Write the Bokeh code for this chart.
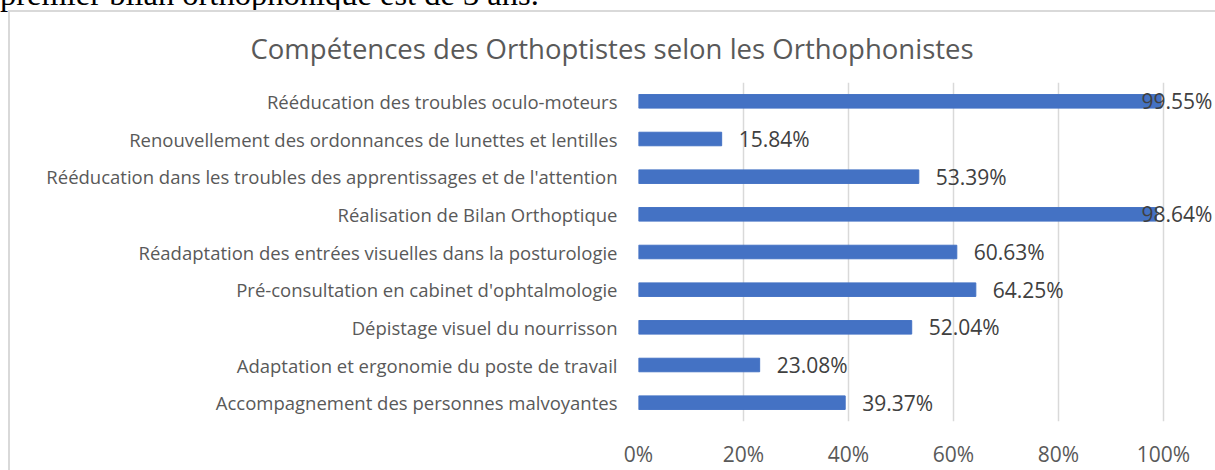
import numpy as np
from bokeh.plotting import figure
from bokeh.layouts import column
from bokeh.models import (FixedTicker, PrintfTickFormatter, Div,
                          ColumnDataSource, FactorRange)
from bokeh.core.properties import value
from bokeh.embed import file_html
from bokeh.resources import INLINE

categories = [
    "Rééducation des troubles oculo-moteurs",
    "Renouvellement des ordonnances de lunettes et lentilles",
    "Rééducation dans les troubles des apprentissages et de l'attention",
    "Réalisation de Bilan Orthoptique",
    "Réadaptation des entrées visuelles dans la posturologie",
    "Pré-consultation en cabinet d'ophtalmologie",
    "Dépistage visuel du nourrisson",
    "Adaptation et ergonomie du poste de travail",
    "Accompagnement des personnes malvoyantes",
]
values = [99.55, 15.84, 53.39, 98.64, 60.63, 64.25, 52.04, 23.08, 39.37]
x_ticks = [0, 20, 40, 60, 80, 100]
title_text = "Compétences des Orthoptistes selon les Orthophonistes"
above_text = "premier bilan orthophonique est de 3 ans."

FONT = "Open Sans"
GREY = "#595959"
W, H = 1215, 470
LEFT, TOP, BOTTOM = 638, 82, 42
PX_PER_PCT = 5.25
x_end = (W - LEFT) / PX_PER_PCT

vals = np.array(values)
lab_x = np.minimum(vals + 17 / PX_PER_PCT, 95.8)
src = ColumnDataSource(dict(cat=categories, v=values, lx=lab_x,
                            txt=[f"{v:.2f}%" for v in values]))

p = figure(width=W, height=H, output_backend="svg", toolbar_location=None,
           y_range=FactorRange(*categories[::-1], range_padding=0),
           x_range=(0, x_end),
           min_border_left=LEFT, min_border_right=0, min_border_top=TOP,
           min_border_bottom=BOTTOM)
# light grey chart-area frame (left and top edges) painted behind the canvas
p.styles = {
    "background-image": "linear-gradient(#d9d9d9, #d9d9d9), linear-gradient(#d9d9d9, #d9d9d9)",
    "background-size": "2px 100%, 100% 2px",
    "background-position": "8px 10px, 8px 10px",
    "background-repeat": "no-repeat",
}
p.outline_line_color = None
p.background_fill_color = "white"
p.border_fill_color = None

p.hbar(y="cat", right="v", left=0, height=0.36, color="#4472C4", source=src)
p.text(x="lx", y="cat", text="txt", source=src, text_baseline="middle",
       text_align="left", text_font=value(FONT), text_font_size="21px",
       text_color="#404040")

p.xaxis.ticker = FixedTicker(ticks=x_ticks)
p.xaxis.formatter = PrintfTickFormatter(format="%d%%")
for ax in (p.xaxis, p.yaxis):
    ax.axis_line_color = None
    ax.major_tick_line_color = None
    ax.minor_tick_line_color = None
    ax.major_tick_out = 0
    ax.major_tick_in = 0
    ax.minor_tick_out = 0
    ax.minor_tick_in = 0
    ax.major_label_text_font = FONT
    ax.major_label_text_color = GREY
p.xaxis.major_label_text_font_size = "21px"
p.xaxis.major_label_text_line_height = 1.0
p.xaxis.major_label_standoff = 18
p.yaxis.major_label_text_font_size = "18.5px"
p.yaxis.major_label_standoff = 21

p.xgrid.ticker = FixedTicker(ticks=x_ticks)
p.xgrid.grid_line_color = "#d9d9d9"
p.xgrid.grid_line_width = 1.5
p.ygrid.grid_line_color = None

p.title.text = title_text
p.title.align = "left"
p.title.offset = 250 - LEFT
p.title.standoff = 31
p.title.text_font = FONT
p.title.text_font_size = "27.5px"
p.title.text_font_style = "normal"
p.title.text_color = GREY

# cut-off line of the surrounding document, above the chart
head = Div(text=above_text, width=700, height=33,
           styles={"position": "absolute", "top": "-22px", "left": "0px",
                   "font-family": "'Liberation Serif', 'Times New Roman', serif",
                   "font-size": "32.5px", "line-height": "32.5px",
                   "color": "black", "white-space": "nowrap", "margin": "0"})

layout = column(head, p)
open("out.html", "w").write(file_html(layout, INLINE))
